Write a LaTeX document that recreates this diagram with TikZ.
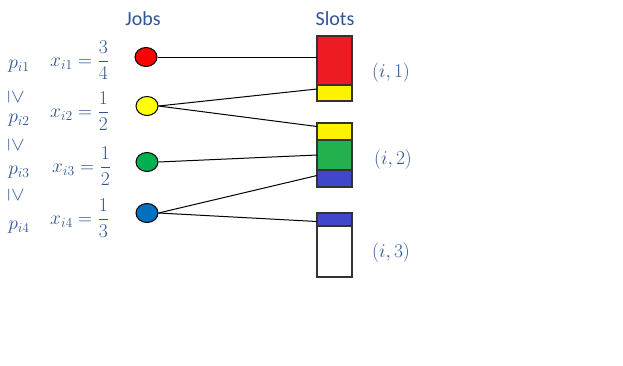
\RequirePackage{fix-cm}
\documentclass[tikz,border=0pt]{standalone}
\usepackage{amsmath}
\usepackage{fontspec}
\setmainfont{Carlito}
\usepackage{tikz}
\usetikzlibrary{shapes.geometric, positioning}
\definecolor{TextBlue}{HTML}{2F5597}
\definecolor{JobRed}{HTML}{FF0000}
\definecolor{JobYellow}{HTML}{FFFF00}
\definecolor{JobGreen}{HTML}{00B050}
\definecolor{JobBlue}{HTML}{0070C0}
\definecolor{SlotRed}{HTML}{ED1C24}
\definecolor{SlotYellow}{HTML}{FFF200}
\definecolor{SlotGreen}{HTML}{22B14C}
\definecolor{SlotBlue}{HTML}{3F48CC}
\definecolor{EdgeGrey}{HTML}{333333}
\tikzset{
  % Job circle
  job_node/.style={
    ellipse, draw=black, line width=1pt,
    minimum width=22pt, minimum height=19pt,
    inner sep=0pt
  },
  % Slot segment
  slot_part/.style={
    rectangle, draw=EdgeGrey, line width=1.2pt,
    minimum width=35pt, inner sep=0pt, outer sep=0pt
  },
  % Column header
  head/.style={
    text=TextBlue, font=\fontsize{20}{24}\selectfont
  },
  % Math label
  mlab/.style={
    text=TextBlue, font=\fontsize{19.5}{23}\selectfont, inner sep=0pt
  },
  % Edge
  link/.style={
    draw=black, line width=1pt
  }
}
\begin{document}
\begin{tikzpicture}[x=1pt, y=-1pt]
\useasboundingbox (0,0) rectangle (623,365);

% ── headers ────────────────────────────────────
\node[head] (jobs_head)  at (143,19) {Jobs};
\node[head] (slots_head) at (335,19) {Slots};

% ── jobs ───────────────────────────────────────
\node[job_node, fill=JobRed]    (j1) at (146,57)  {};
\node[job_node, fill=JobYellow] (j2) at (147,106) {};
\node[job_node, fill=JobGreen]  (j3) at (147,162) {};
\node[job_node, fill=JobBlue]   (j4) at (147,213) {};

% ── left labels ────────────────────────────────
\node[mlab] (p1) at (19,66)  {$p_{i1}$};
\node[mlab, rotate=-90] (ge1) at (16,97) {$\geq$};
\node[mlab] (p2) at (19,120) {$p_{i2}$};
\node[mlab, rotate=-90] (ge2) at (16,145) {$\geq$};
\node[mlab] (p3) at (19,172) {$p_{i3}$};
\node[mlab, rotate=-90] (ge3) at (16,195) {$\geq$};
\node[mlab] (p4) at (19,227) {$p_{i4}$};

\node[mlab, anchor=west] (x1) at (50,60)  {$x_{i1} = \dfrac{3}{4}$};
\node[mlab, anchor=west] (x2) at (50,111) {$x_{i2} = \dfrac{1}{2}$};
\node[mlab, anchor=west] (x3) at (52,166) {$x_{i3} = \dfrac{1}{2}$};
\node[mlab, anchor=west] (x4) at (50,218) {$x_{i4} = \dfrac{1}{3}$};

% ── slots ──────────────────────────────────────
\node[slot_part, fill=SlotRed, minimum height=49pt] (s1_red) at (334.5,60.5) {};
\node[slot_part, fill=SlotYellow, minimum height=16pt, below=0pt of s1_red] (s1_yel) {};

\node[slot_part, fill=SlotYellow, minimum height=17pt] (s2_yel) at (334.5,131.5) {};
\node[slot_part, fill=SlotGreen, minimum height=30pt, below=0pt of s2_yel] (s2_grn) {};
\node[slot_part, fill=SlotBlue, minimum height=17pt, below=0pt of s2_grn] (s2_blu) {};

\node[slot_part, fill=SlotBlue, minimum height=13pt] (s3_blu) at (334.5,219.5) {};
\node[slot_part, fill=white, minimum height=51pt, below=0pt of s3_blu] (s3_wht) {};

\node[mlab] (slot1) at (391,73)  {$(i,1)$};
\node[mlab] (slot2) at (393,160) {$(i,2)$};
\node[mlab] (slot3) at (391,253) {$(i,3)$};

% ── edges ──────────────────────────────────────
\draw[link] (j1.east) -- (s1_red.west |- j1.east);
\draw[link] (j2.east) -- ([yshift=4pt]s1_yel.west);
\draw[link] (j2.east) -- ([yshift=5pt]s2_yel.west);
\draw[link] (j3.east) -- (s2_grn.west);
\draw[link] (j4.east) -- ([yshift=3pt]s2_blu.west);
\draw[link] (j4.east) -- ([yshift=-2pt]s3_blu.west);

\end{tikzpicture}
\end{document}
